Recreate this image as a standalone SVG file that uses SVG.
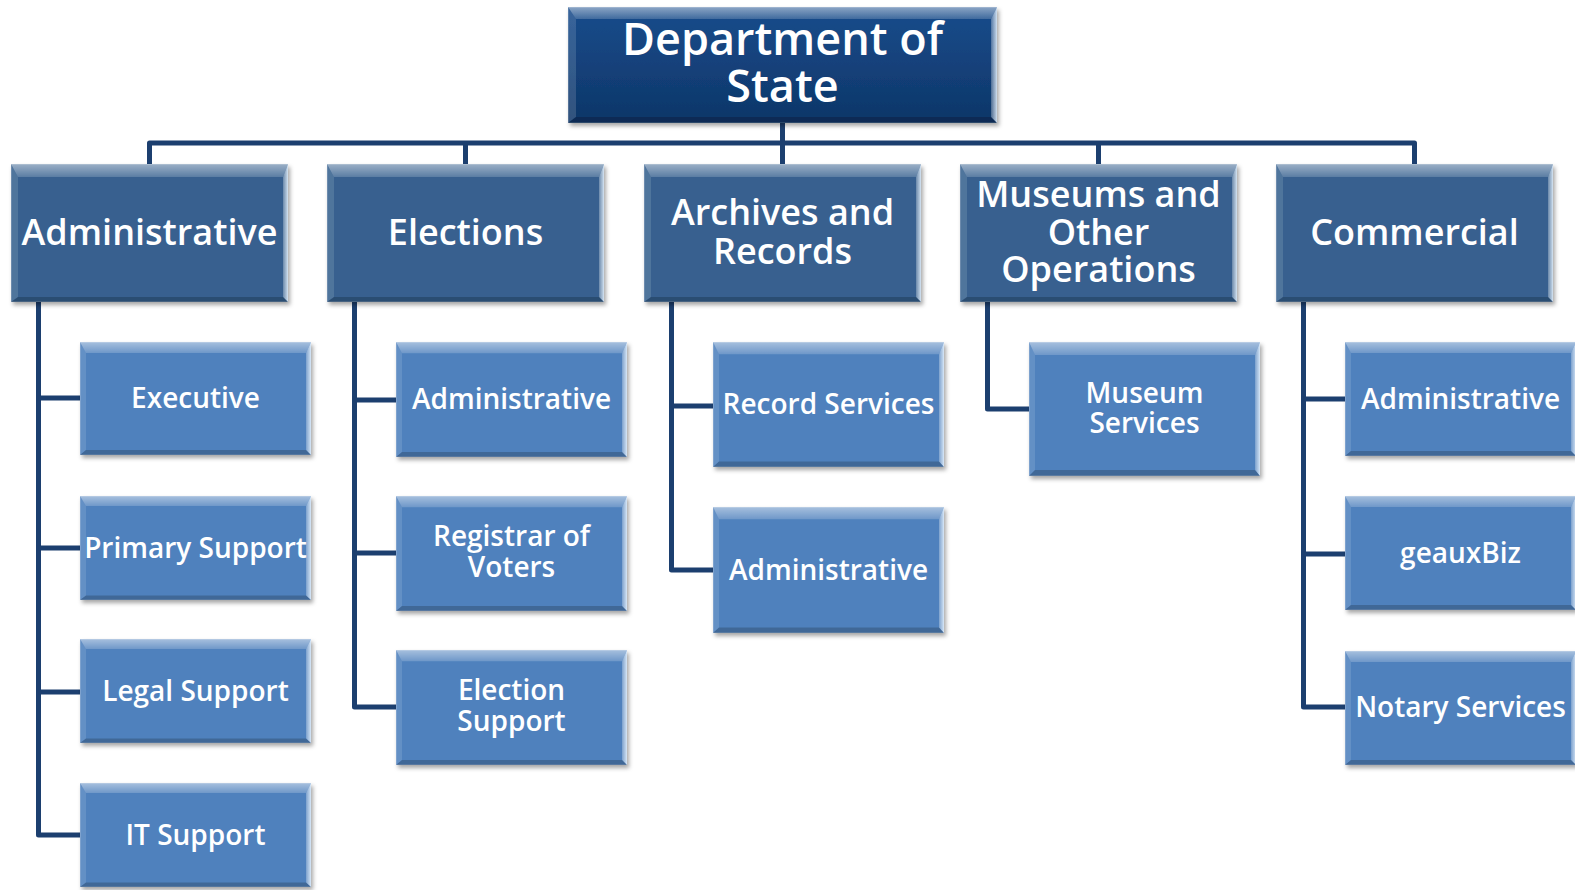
<svg xmlns="http://www.w3.org/2000/svg" xmlns:xlink="http://www.w3.org/1999/xlink" width="1575" height="890" viewBox="0 0 1575 890">
<style>
  .t { font-family: "Open Sans", "Liberation Sans", sans-serif; font-weight: 600; fill: #ffffff; text-anchor: middle; }
  .t0 { font-size: 45px; }
  .t1 { font-size: 36px; }
  .t2 { font-size: 28px; }
  .conn { fill: none; stroke: #1c3f6f; stroke-width: 5; stroke-linejoin: round; stroke-linecap: butt; }
  .lvl0 { fill: url(#g0); }
  .lvl1 { fill: #37618f; }
  .lvl2 { fill: #4f81bd; }
</style>
<defs>
  <filter id="sh" x="-5%" y="-5%" width="115%" height="120%">
    <feDropShadow dx="2" dy="3" stdDeviation="2" flood-color="#000" flood-opacity="0.35"/>
  </filter>
  <linearGradient id="g0" x1="0" y1="0" x2="0" y2="1">
    <stop offset="0" stop-color="#184c8c"/>
    <stop offset="1" stop-color="#0e3668"/>
  </linearGradient>
  <linearGradient id="gTop" x1="0" y1="0" x2="0" y2="1">
    <stop offset="0" stop-color="#fff" stop-opacity="0.5"/>
    <stop offset="1" stop-color="#fff" stop-opacity="0.18"/>
  </linearGradient>
  <linearGradient id="gRight" x1="0" y1="0" x2="1" y2="0">
    <stop offset="0" stop-color="#fff" stop-opacity="0.25"/>
    <stop offset="1" stop-color="#e6f3ff" stop-opacity="0.85"/>
  </linearGradient>
  <symbol id="b0" viewBox="0 0 429 116" preserveAspectRatio="none">
    <rect x="0" y="0" width="429" height="116" stroke="#ffffff" stroke-opacity="0.35" stroke-width="1"/>
    <polygon points="0,0 429,0 423,12 8,12" fill="url(#gTop)"/>
    <polygon points="0,0 8,12 8,110 0,116" fill="#fff" fill-opacity="0.14"/>
    <polygon points="429,0 429,116 423,110 423,12" fill="url(#gRight)"/>
    <polygon points="0,116 8,110 423,110 429,116" fill="#000" fill-opacity="0.2"/>
  </symbol>
  <symbol id="b1" viewBox="0 0 277 138" preserveAspectRatio="none">
    <rect x="0" y="0" width="277" height="138" stroke="#ffffff" stroke-opacity="0.35" stroke-width="1"/>
    <polygon points="0,0 277,0 272,13 7,13" fill="url(#gTop)"/>
    <polygon points="0,0 7,13 7,133 0,138" fill="#fff" fill-opacity="0.12"/>
    <polygon points="277,0 277,138 272,133 272,13" fill="url(#gRight)"/>
    <polygon points="0,138 7,133 272,133 277,138" fill="#000" fill-opacity="0.2"/>
  </symbol>
  <symbol id="b2" viewBox="0 0 231 113" preserveAspectRatio="none">
    <rect x="0" y="0" width="231" height="113" stroke="#ffffff" stroke-opacity="0.35" stroke-width="1"/>
    <polygon points="0,0 231,0 226,11 6,11" fill="url(#gTop)"/>
    <polygon points="0,0 6,11 6,108 0,113" fill="#fff" fill-opacity="0.12"/>
    <polygon points="231,0 231,113 226,108 226,11" fill="url(#gRight)"/>
    <polygon points="0,113 6,108 226,108 231,113" fill="#000" fill-opacity="0.2"/>
  </symbol>
</defs>

<g id="connectors">
  <path class="conn" d="M782.5,123 V143"/>
  <path class="conn" d="M149.5,165 V143 H1414.5 V165"/>
  <path class="conn" d="M465.5,143 V165"/>
  <path class="conn" d="M782.5,143 V165"/>
  <path class="conn" d="M1098.5,143 V165"/>
  <path class="conn" d="M38.5,302 V835 H81"/>
  <path class="conn" d="M38.5,398 H81 M38.5,548 H81 M38.5,692 H81"/>
  <path class="conn" d="M354.5,302 V707 H397"/>
  <path class="conn" d="M354.5,400 H397 M354.5,553 H397"/>
  <path class="conn" d="M671.5,302 V570 H714"/>
  <path class="conn" d="M671.5,406 H714"/>
  <path class="conn" d="M987.5,302 V409 H1030"/>
  <path class="conn" d="M1303.5,302 V707 H1346"/>
  <path class="conn" d="M1303.5,399 H1346 M1303.5,554 H1346"/>
</g>

<g id="n-dept">
  <use href="#b0" class="lvl0" x="568" y="7" width="429" height="116" filter="url(#sh)"/>
  <text class="t t0" x="782.5" y="55">Department of</text>
  <text class="t t0" x="782.5" y="102">State</text>
</g>

<g id="n-admin">
  <use href="#b1" class="lvl1" x="11" y="164" width="277" height="138" filter="url(#sh)"/>
  <text class="t t1" x="149.5" y="245">Administrative</text>
</g>
<g id="n-elections">
  <use href="#b1" class="lvl1" x="327" y="164" width="277" height="138" filter="url(#sh)"/>
  <text class="t t1" x="465.5" y="245">Elections</text>
</g>
<g id="n-archives">
  <use href="#b1" class="lvl1" x="644" y="164" width="277" height="138" filter="url(#sh)"/>
  <text class="t t1" x="782.5" y="225">Archives and</text>
  <text class="t t1" x="782.5" y="264">Records</text>
</g>
<g id="n-museums">
  <use href="#b1" class="lvl1" x="960" y="164" width="277" height="138" filter="url(#sh)"/>
  <text class="t t1" x="1098.5" y="207">Museums and</text>
  <text class="t t1" x="1098.5" y="245">Other</text>
  <text class="t t1" x="1098.5" y="282">Operations</text>
</g>
<g id="n-commercial">
  <use href="#b1" class="lvl1" x="1276" y="164" width="277" height="138" filter="url(#sh)"/>
  <text class="t t1" x="1414.5" y="245">Commercial</text>
</g>

<g id="n-executive">
  <use href="#b2" class="lvl2" x="80" y="342" width="231" height="113" filter="url(#sh)"/>
  <text class="t t2" x="195.5" y="408">Executive</text>
</g>
<g id="n-primary">
  <use href="#b2" class="lvl2" x="80" y="496" width="231" height="104" filter="url(#sh)"/>
  <text class="t t2" x="195.5" y="558">Primary Support</text>
</g>
<g id="n-legal">
  <use href="#b2" class="lvl2" x="80" y="639" width="231" height="104" filter="url(#sh)"/>
  <text class="t t2" x="195.5" y="701">Legal Support</text>
</g>
<g id="n-it">
  <use href="#b2" class="lvl2" x="80" y="783" width="231" height="104" filter="url(#sh)"/>
  <text class="t t2" x="195.5" y="845">IT Support</text>
</g>

<g id="n-el-admin">
  <use href="#b2" class="lvl2" x="396" y="342" width="231" height="115" filter="url(#sh)"/>
  <text class="t t2" x="511.5" y="409">Administrative</text>
</g>
<g id="n-registrar">
  <use href="#b2" class="lvl2" x="396" y="496" width="231" height="115" filter="url(#sh)"/>
  <text class="t t2" x="511.5" y="546">Registrar of</text>
  <text class="t t2" x="511.5" y="577">Voters</text>
</g>
<g id="n-elsupport">
  <use href="#b2" class="lvl2" x="396" y="650" width="231" height="115" filter="url(#sh)"/>
  <text class="t t2" x="511.5" y="700">Election</text>
  <text class="t t2" x="511.5" y="731">Support</text>
</g>

<g id="n-records">
  <use href="#b2" class="lvl2" x="713" y="342" width="231" height="125" filter="url(#sh)"/>
  <text class="t t2" x="828.5" y="414">Record Services</text>
</g>
<g id="n-ar-admin">
  <use href="#b2" class="lvl2" x="713" y="507" width="231" height="126" filter="url(#sh)"/>
  <text class="t t2" x="828.5" y="580">Administrative</text>
</g>

<g id="n-museum-services">
  <use href="#b2" class="lvl2" x="1029" y="342" width="231" height="134" filter="url(#sh)"/>
  <text class="t t2" x="1144.5" y="403">Museum</text>
  <text class="t t2" x="1144.5" y="433">Services</text>
</g>

<g id="n-co-admin">
  <use href="#b2" class="lvl2" x="1345" y="342" width="231" height="114" filter="url(#sh)"/>
  <text class="t t2" x="1460.5" y="409">Administrative</text>
</g>
<g id="n-geauxbiz">
  <use href="#b2" class="lvl2" x="1345" y="496" width="231" height="114" filter="url(#sh)"/>
  <text class="t t2" x="1460.5" y="563">geauxBiz</text>
</g>
<g id="n-notary">
  <use href="#b2" class="lvl2" x="1345" y="651" width="231" height="114" filter="url(#sh)"/>
  <text class="t t2" x="1460.5" y="717">Notary Services</text>
</g>
</svg>
